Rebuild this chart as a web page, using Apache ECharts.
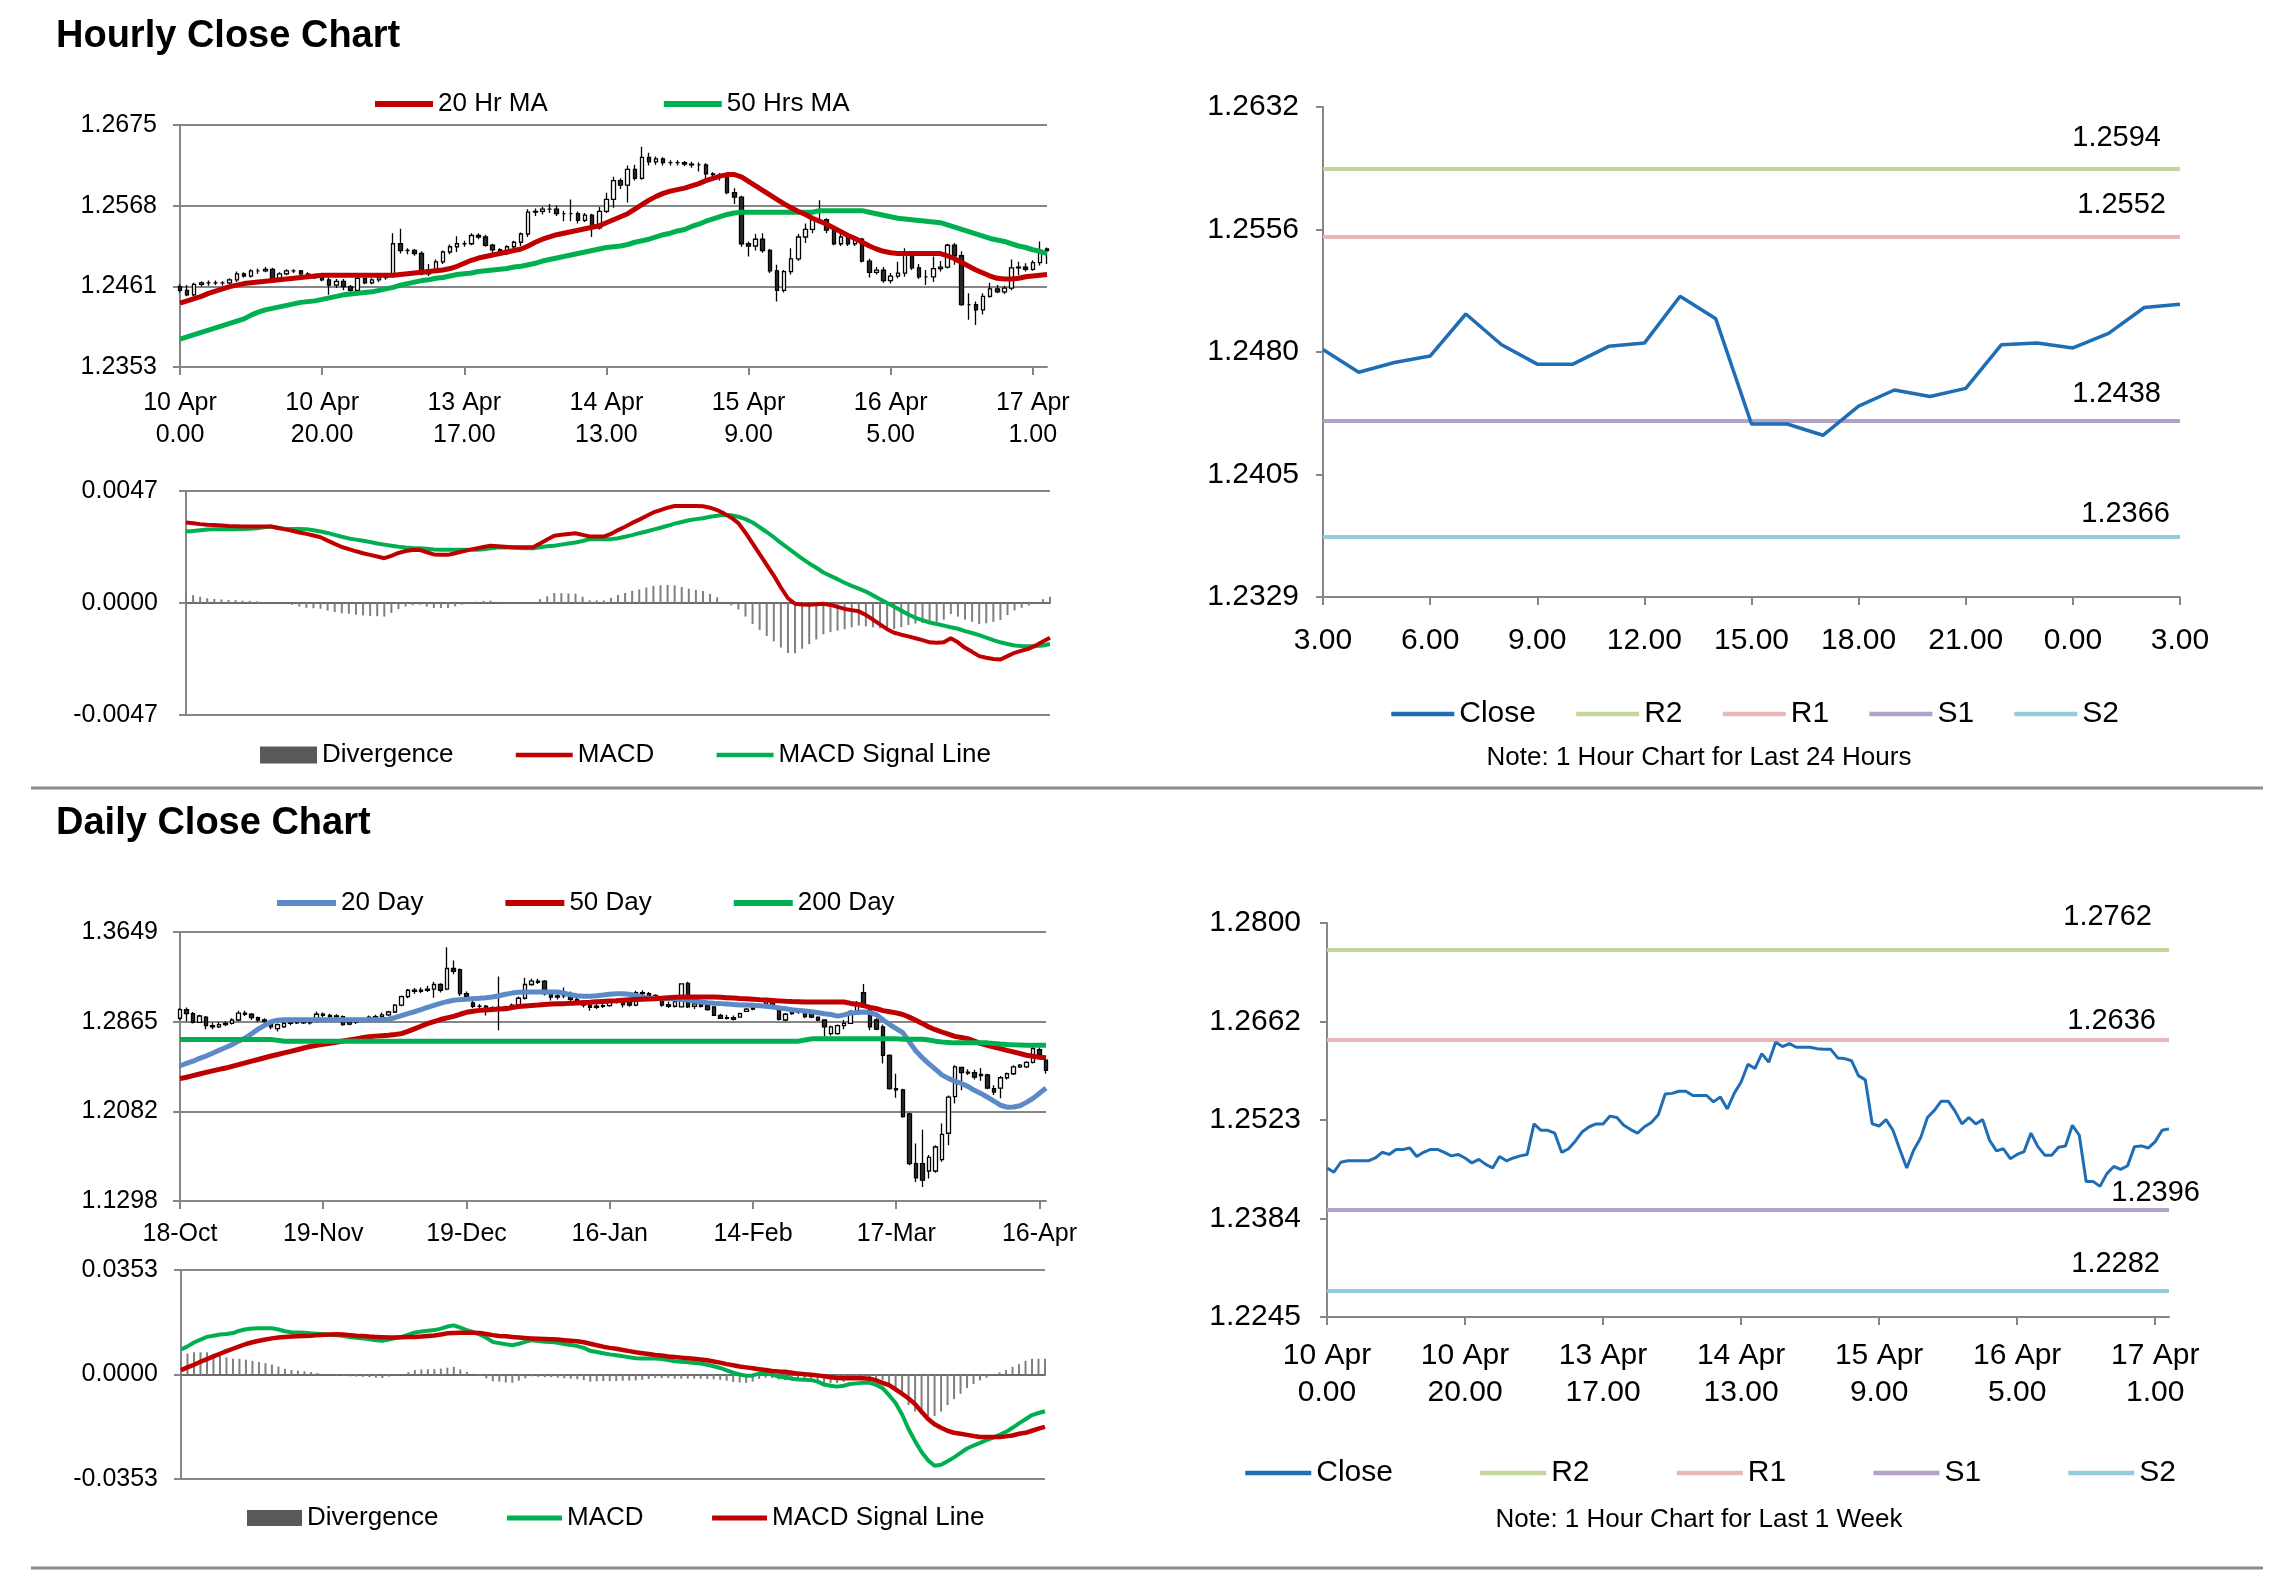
<!DOCTYPE html>
<html>
<head>
<meta charset="utf-8">
<script src="https://cdn.jsdelivr.net/npm/echarts@6/dist/echarts.min.js"></script>
<style>html,body{margin:0;padding:0;background:#fff;}#c{width:2291px;height:1577px;}</style>
</head>
<body>
<div id="c"></div>
<script>
// ---------------- DATA ----------------
// Hourly (10 Apr 0.00 .. 17 Apr 1.00), 123 bars
const hourTicks = ['10 Apr\n0.00','10 Apr\n20.00','13 Apr\n17.00','14 Apr\n13.00','15 Apr\n9.00','16 Apr\n5.00','17 Apr\n1.00'];
const hourYLabels = ['1.2353','1.2461','1.2568','1.2675'];
const hourOpen = [1.2460,1.2455,1.2449,1.2463,1.2465,1.2465,1.2465,1.2465,1.2469,1.2477,
1.2474,1.2481,1.2481,1.2483,1.2471,1.2477,1.2481,1.2481,1.2477,1.2472,
1.2474,1.2469,1.2462,1.2467,1.2460,1.2455,1.2471,1.2465,1.2469,1.2472,
1.2474,1.2517,1.2508,1.2508,1.2504,1.2477,1.2482,1.2493,1.2506,1.2513,
1.2517,1.2517,1.2528,1.2526,1.2515,1.2509,1.2504,1.2513,1.2519,1.2530,
1.2559,1.2560,1.2563,1.2563,1.2557,1.2557,1.2557,1.2548,1.2555,1.2538,
1.2560,1.2576,1.2601,1.2595,1.2616,1.2604,1.2632,1.2626,1.2630,1.2625,
1.2625,1.2625,1.2623,1.2622,1.2622,1.2610,1.2609,1.2606,1.2585,1.2579,
1.2517,1.2514,1.2523,1.2508,1.2481,1.2455,1.2480,1.2497,1.2526,1.2536,
1.2549,1.2549,1.2535,1.2517,1.2526,1.2517,1.2523,1.2494,1.2479,1.2482,
1.2468,1.2474,1.2478,1.2504,1.2485,1.2473,1.2473,1.2484,1.2486,1.2515,
1.2501,1.2436,1.2436,1.2429,1.2447,1.2457,1.2453,1.2458,1.2485,1.2486,
1.2483,1.2492,1.2508];
const hourClose = [1.2455,1.2449,1.2463,1.2465,1.2465,1.2465,1.2465,1.2469,1.2477,1.2474,
1.2481,1.2481,1.2483,1.2471,1.2477,1.2481,1.2481,1.2477,1.2472,1.2474,
1.2469,1.2462,1.2467,1.2460,1.2455,1.2471,1.2465,1.2469,1.2472,1.2474,
1.2517,1.2508,1.2508,1.2504,1.2477,1.2482,1.2493,1.2506,1.2513,1.2517,
1.2517,1.2528,1.2526,1.2515,1.2509,1.2504,1.2513,1.2519,1.2530,1.2559,
1.2560,1.2563,1.2563,1.2557,1.2557,1.2557,1.2548,1.2555,1.2538,1.2560,
1.2576,1.2601,1.2595,1.2616,1.2604,1.2632,1.2626,1.2630,1.2625,1.2625,
1.2625,1.2623,1.2622,1.2622,1.2610,1.2609,1.2606,1.2585,1.2579,1.2517,
1.2514,1.2523,1.2508,1.2481,1.2455,1.2480,1.2497,1.2526,1.2536,1.2549,
1.2549,1.2535,1.2517,1.2526,1.2517,1.2523,1.2494,1.2479,1.2482,1.2468,
1.2474,1.2478,1.2504,1.2485,1.2473,1.2473,1.2484,1.2486,1.2515,1.2501,
1.2436,1.2436,1.2429,1.2447,1.2457,1.2453,1.2458,1.2485,1.2486,1.2483,
1.2492,1.2508,1.2510];
const hourLow = [1.2452,1.2447,1.2447,1.2460,1.2461,1.2462,1.2461,1.2463,1.2466,1.2472,
1.2472,1.2477,1.2479,1.2469,1.2468,1.2475,1.2478,1.2475,1.2470,1.2470,
1.2467,1.2449,1.2458,1.2455,1.2451,1.2451,1.2463,1.2463,1.2466,1.2469,
1.2472,1.2504,1.2503,1.2501,1.2475,1.2474,1.2479,1.2490,1.2503,1.2506,
1.2513,1.2515,1.2523,1.2513,1.2503,1.2501,1.2502,1.2510,1.2514,1.2526,
1.2554,1.2556,1.2558,1.2554,1.2547,1.2547,1.2544,1.2546,1.2526,1.2536,
1.2558,1.2565,1.2590,1.2572,1.2601,1.2602,1.2621,1.2622,1.2621,1.2621,
1.2621,1.2620,1.2618,1.2613,1.2603,1.2602,1.2601,1.2583,1.2570,1.2513,
1.2500,1.2508,1.2505,1.2478,1.2440,1.2452,1.2476,1.2494,1.2518,1.2531,
1.2544,1.2531,1.2515,1.2514,1.2514,1.2514,1.2492,1.2472,1.2476,1.2465,
1.2464,1.2471,1.2473,1.2482,1.2470,1.2462,1.2466,1.2480,1.2484,1.2489,
1.2434,1.2416,1.2409,1.2423,1.2445,1.2451,1.2450,1.2455,1.2475,1.2480,
1.2481,1.2488,1.2490];
const hourHigh = [1.2463,1.2462,1.2465,1.2467,1.2468,1.2468,1.2467,1.2471,1.2480,1.2479,
1.2483,1.2484,1.2486,1.2485,1.2479,1.2483,1.2483,1.2482,1.2479,1.2476,
1.2476,1.2472,1.2470,1.2470,1.2462,1.2473,1.2472,1.2471,1.2474,1.2478,
1.2531,1.2537,1.2511,1.2510,1.2507,1.2490,1.2496,1.2508,1.2516,1.2527,
1.2521,1.2531,1.2531,1.2529,1.2517,1.2511,1.2515,1.2521,1.2532,1.2563,
1.2564,1.2566,1.2570,1.2568,1.2561,1.2576,1.2560,1.2558,1.2557,1.2566,
1.2585,1.2606,1.2604,1.2621,1.2622,1.2646,1.2638,1.2633,1.2632,1.2628,
1.2628,1.2627,1.2626,1.2625,1.2624,1.2612,1.2611,1.2608,1.2591,1.2581,
1.2520,1.2530,1.2531,1.2510,1.2489,1.2482,1.2511,1.2530,1.2544,1.2551,
1.2575,1.2551,1.2540,1.2530,1.2528,1.2526,1.2525,1.2497,1.2486,1.2486,
1.2478,1.2493,1.2511,1.2506,1.2490,1.2482,1.2500,1.2494,1.2517,1.2518,
1.2507,1.2451,1.2440,1.2451,1.2465,1.2462,1.2461,1.2496,1.2493,1.2491,
1.2495,1.2520,1.2512];
const hourMA20 = [1.2438,1.2441,1.2444,1.2447,1.2451,1.2454,1.2457,1.2460,1.2462,1.2464,
1.2465,1.2466,1.2467,1.2468,1.2469,1.2470,1.2471,1.2472,1.2473,1.2474,
1.2475,1.2475,1.2475,1.2475,1.2475,1.2475,1.2475,1.2475,1.2475,1.2475,
1.2475,1.2476,1.2477,1.2478,1.2479,1.2480,1.2481,1.2482,1.2484,1.2487,
1.2491,1.2495,1.2498,1.2500,1.2502,1.2504,1.2506,1.2508,1.2510,1.2514,
1.2519,1.2523,1.2526,1.2529,1.2531,1.2533,1.2535,1.2537,1.2539,1.2541,
1.2545,1.2549,1.2553,1.2557,1.2563,1.2569,1.2575,1.2580,1.2584,1.2587,
1.2589,1.2591,1.2594,1.2597,1.2601,1.2604,1.2607,1.2609,1.2609,1.2606,
1.2600,1.2594,1.2588,1.2582,1.2576,1.2570,1.2565,1.2560,1.2556,1.2551,
1.2547,1.2543,1.2538,1.2533,1.2528,1.2524,1.2519,1.2514,1.2510,1.2507,
1.2505,1.2504,1.2504,1.2504,1.2504,1.2504,1.2504,1.2504,1.2501,1.2497,
1.2492,1.2487,1.2482,1.2478,1.2474,1.2471,1.2470,1.2470,1.2471,1.2473,
1.2474,1.2475,1.2476];
const hourMA50 = [1.2390,1.2393,1.2396,1.2399,1.2402,1.2405,1.2408,1.2411,1.2414,1.2417,
1.2422,1.2426,1.2429,1.2431,1.2433,1.2435,1.2437,1.2439,1.2440,1.2441,
1.2443,1.2445,1.2447,1.2449,1.2450,1.2451,1.2452,1.2453,1.2455,1.2457,
1.2459,1.2462,1.2464,1.2466,1.2468,1.2469,1.2471,1.2472,1.2474,1.2476,
1.2477,1.2478,1.2480,1.2481,1.2482,1.2483,1.2484,1.2486,1.2487,1.2489,
1.2491,1.2494,1.2496,1.2498,1.2500,1.2502,1.2504,1.2506,1.2508,1.2510,
1.2512,1.2513,1.2514,1.2516,1.2519,1.2521,1.2523,1.2526,1.2529,1.2531,
1.2534,1.2536,1.2540,1.2543,1.2547,1.2550,1.2553,1.2556,1.2558,1.2559,
1.2559,1.2559,1.2559,1.2559,1.2559,1.2559,1.2559,1.2559,1.2559,1.2559,
1.2561,1.2561,1.2561,1.2561,1.2561,1.2561,1.2561,1.2559,1.2557,1.2555,
1.2553,1.2551,1.2550,1.2549,1.2548,1.2547,1.2546,1.2545,1.2542,1.2539,
1.2536,1.2533,1.2530,1.2527,1.2524,1.2522,1.2520,1.2517,1.2514,1.2512,
1.2509,1.2507,1.2504];
const hourMacdLabels = ['-0.0047','0.0000','0.0047'];
const hourMacd = [0.00338,0.00335,0.00331,0.00328,0.00327,0.00325,0.00323,0.00322,0.00321,0.00321,
0.00321,0.00321,0.00321,0.00315,0.00309,0.00303,0.00296,0.00290,0.00283,0.00276,
0.00262,0.00248,0.00235,0.00226,0.00217,0.00209,0.00202,0.00195,0.00188,0.00198,
0.00210,0.00218,0.00222,0.00223,0.00213,0.00204,0.00202,0.00202,0.00209,0.00216,
0.00223,0.00229,0.00235,0.00240,0.00238,0.00236,0.00234,0.00234,0.00234,0.00234,
0.00250,0.00266,0.00282,0.00286,0.00290,0.00293,0.00286,0.00279,0.00279,0.00279,
0.00290,0.00306,0.00320,0.00336,0.00350,0.00365,0.00380,0.00390,0.00400,0.00407,
0.00407,0.00407,0.00407,0.00406,0.00400,0.00390,0.00375,0.00358,0.00335,0.00295,
0.00250,0.00205,0.00160,0.00115,0.00065,0.00020,-0.00003,-0.00006,-0.00007,-0.00005,
-0.00003,-0.00008,-0.00016,-0.00025,-0.00030,-0.00035,-0.00050,-0.00070,-0.00090,-0.00110,
-0.00125,-0.00133,-0.00140,-0.00148,-0.00156,-0.00165,-0.00167,-0.00165,-0.00148,-0.00165,
-0.00188,-0.00205,-0.00223,-0.00230,-0.00235,-0.00237,-0.00223,-0.00209,-0.00200,-0.00192,
-0.00178,-0.00162,-0.00146];
const hourSignal = [0.00300,0.00302,0.00305,0.00308,0.00310,0.00310,0.00310,0.00310,0.00311,0.00312,
0.00314,0.00318,0.00321,0.00316,0.00311,0.00311,0.00311,0.00310,0.00305,0.00300,
0.00294,0.00286,0.00278,0.00271,0.00266,0.00261,0.00256,0.00250,0.00245,0.00240,
0.00236,0.00233,0.00231,0.00230,0.00228,0.00225,0.00223,0.00223,0.00223,0.00223,
0.00223,0.00223,0.00226,0.00230,0.00233,0.00234,0.00233,0.00231,0.00230,0.00230,
0.00234,0.00238,0.00240,0.00245,0.00250,0.00254,0.00260,0.00268,0.00268,0.00268,
0.00268,0.00272,0.00278,0.00285,0.00293,0.00300,0.00308,0.00316,0.00324,0.00333,
0.00340,0.00347,0.00352,0.00356,0.00362,0.00366,0.00370,0.00368,0.00362,0.00352,
0.00338,0.00318,0.00298,0.00276,0.00252,0.00230,0.00208,0.00186,0.00166,0.00148,
0.00128,0.00114,0.00100,0.00085,0.00072,0.00060,0.00048,0.00032,0.00016,0.00000,
-0.00016,-0.00032,-0.00048,-0.00062,-0.00072,-0.00082,-0.00088,-0.00095,-0.00102,-0.00108,
-0.00118,-0.00126,-0.00135,-0.00145,-0.00156,-0.00165,-0.00172,-0.00178,-0.00180,-0.00181,
-0.00181,-0.00178,-0.00172];
const hourDiv = [0.00038,0.00033,0.00026,0.00020,0.00017,0.00015,0.00013,0.00012,0.00010,0.00009,
0.00007,0.00003,0.00000,-0.00001,-0.00002,-0.00008,-0.00015,-0.00020,-0.00022,-0.00024,
-0.00032,-0.00038,-0.00043,-0.00045,-0.00049,-0.00052,-0.00054,-0.00055,-0.00057,-0.00042,
-0.00026,-0.00015,-0.00009,-0.00007,-0.00015,-0.00021,-0.00021,-0.00021,-0.00014,-0.00007,
0.00000,0.00006,0.00009,0.00010,0.00005,0.00002,0.00001,0.00003,0.00004,0.00004,
0.00016,0.00028,0.00042,0.00041,0.00040,0.00039,0.00026,0.00011,0.00011,0.00011,
0.00022,0.00034,0.00042,0.00051,0.00057,0.00065,0.00072,0.00074,0.00076,0.00074,
0.00067,0.00060,0.00055,0.00050,0.00038,0.00024,0.00005,-0.00010,-0.00027,-0.00057,
-0.00088,-0.00113,-0.00138,-0.00161,-0.00187,-0.00210,-0.00211,-0.00192,-0.00173,-0.00153,
-0.00131,-0.00122,-0.00116,-0.00110,-0.00102,-0.00095,-0.00098,-0.00102,-0.00106,-0.00110,
-0.00109,-0.00101,-0.00092,-0.00086,-0.00084,-0.00083,-0.00079,-0.00070,-0.00046,-0.00057,
-0.00070,-0.00079,-0.00088,-0.00085,-0.00079,-0.00072,-0.00051,-0.00031,-0.00020,-0.00011,
0.00003,0.00016,0.00026];

// Last 24 hours (3.00 .. 3.00), 25 points
const last24Ticks = ['3.00','6.00','9.00','12.00','15.00','18.00','21.00','0.00','3.00'];
const last24YLabels = ['1.2329','1.2405','1.2480','1.2556','1.2632'];
const last24Close = [1.2482,1.2468,1.2474,1.2478,1.2504,1.2485,1.2473,1.2473,1.2484,1.2486,
1.2515,1.2501,1.2436,1.2436,1.2429,1.2447,1.2457,1.2453,1.2458,1.2485,1.2486,1.2483,1.2492,1.2508,1.2510];
const pivotNames = ['R2','R1','S1','S2'];
const last24Pivots = [1.2594,1.2552,1.2438,1.2366];

// Last week (uses hourly closes)
const weekYLabels = ['1.2245','1.2384','1.2523','1.2662','1.2800'];
const weekPivots = [1.2762,1.2636,1.2396,1.2282];

// Daily (18-Oct .. 17-Apr), 134 bars
const dayTicks = ['18-Oct','19-Nov','19-Dec','16-Jan','14-Feb','17-Mar','16-Apr'];
const dayYLabels = ['1.1298','1.2082','1.2865','1.3649'];
const dayOpen = [1.2895,1.2970,1.2935,1.2860,1.2905,1.2830,1.2820,1.2840,1.2850,1.2880,
1.2940,1.2930,1.2900,1.2880,1.2865,1.2805,1.2820,1.2850,1.2855,1.2860,
1.2855,1.2870,1.2930,1.2920,1.2910,1.2910,1.2845,1.2860,1.2870,1.2885,
1.2905,1.2910,1.2925,1.2950,1.3010,1.3085,1.3140,1.3130,1.3140,1.3150,
1.3190,1.3150,1.3330,1.3320,1.3110,1.3030,1.3000,1.3000,1.2985,1.2990,
1.2980,1.2995,1.3010,1.3070,1.3190,1.3220,1.3220,1.3110,1.3080,1.3090,
1.3110,1.3060,1.3035,1.3010,1.2990,1.3000,1.3005,1.3040,1.3050,1.3040,
1.3010,1.3120,1.3110,1.3095,1.3060,1.3015,1.3000,1.2995,1.3200,1.3000,
1.3020,1.3005,1.2995,1.2920,1.2895,1.2900,1.2905,1.2955,1.2975,1.3000,
1.3020,1.3040,1.2975,1.2880,1.2935,1.2950,1.2955,1.2940,1.2905,1.2880,
1.2760,1.2760,1.2830,1.2850,1.2955,1.3120,1.2990,1.2880,1.2820,1.2570,
1.2280,1.2270,1.2060,1.1625,1.1625,1.1560,1.1560,1.1660,1.1890,1.2210,
1.2465,1.2425,1.2420,1.2405,1.2400,1.2280,1.2285,1.2375,1.2410,1.2470,
1.2470,1.2510,1.2620,1.2530];
const dayClose = [1.2970,1.2935,1.2860,1.2915,1.2830,1.2820,1.2840,1.2850,1.2880,1.2940,
1.2930,1.2900,1.2880,1.2870,1.2820,1.2840,1.2850,1.2855,1.2860,1.2855,
1.2858,1.2930,1.2920,1.2910,1.2915,1.2840,1.2860,1.2870,1.2880,1.2905,
1.2910,1.2925,1.2950,1.3010,1.3085,1.3140,1.3130,1.3140,1.3150,1.3190,
1.3140,1.3330,1.3305,1.3110,1.3085,1.3000,1.3000,1.2960,1.2975,1.2975,
1.2995,1.3010,1.3070,1.3190,1.3220,1.3210,1.3110,1.3080,1.3090,1.3120,
1.3060,1.3035,1.3010,1.2990,1.3000,1.3005,1.3040,1.3050,1.3015,1.3010,
1.3120,1.3110,1.3095,1.3060,1.3010,1.3000,1.3040,1.3195,1.2995,1.3020,
1.3000,1.2970,1.2920,1.2895,1.2900,1.2885,1.2935,1.2975,1.2985,1.3010,
1.3040,1.2985,1.2885,1.2930,1.2950,1.2960,1.2910,1.2905,1.2880,1.2820,
1.2820,1.2830,1.2850,1.2955,1.3030,1.2995,1.2820,1.2800,1.2570,1.2280,
1.2270,1.2035,1.1625,1.1500,1.1480,1.1680,1.1770,1.1880,1.2205,1.2470,
1.2420,1.2415,1.2380,1.2395,1.2285,1.2250,1.2375,1.2410,1.2470,1.2485,
1.2510,1.2630,1.2580,1.2440];
const dayLow = [1.2880,1.2870,1.2850,1.2855,1.2800,1.2800,1.2810,1.2825,1.2840,1.2870,
1.2915,1.2880,1.2865,1.2855,1.2800,1.2780,1.2810,1.2835,1.2845,1.2845,
1.2840,1.2860,1.2905,1.2895,1.2890,1.2830,1.2835,1.2845,1.2860,1.2875,
1.2895,1.2900,1.2915,1.2940,1.3000,1.3070,1.3110,1.3115,1.3125,1.3075,
1.3120,1.3140,1.3280,1.3090,1.3060,1.2985,1.2985,1.2920,1.2950,1.2790,
1.2970,1.2980,1.3000,1.3060,1.3180,1.3195,1.3095,1.3050,1.3060,1.3070,
1.3040,1.3020,1.2990,1.2960,1.2975,1.2985,1.2995,1.3025,1.2990,1.2995,
1.3000,1.3090,1.3080,1.3045,1.2995,1.2985,1.2990,1.2990,1.2985,1.2975,
1.2990,1.2960,1.2915,1.2890,1.2885,1.2875,1.2900,1.2950,1.2965,1.2990,
1.3010,1.2975,1.2875,1.2870,1.2925,1.2935,1.2895,1.2895,1.2870,1.2735,
1.2745,1.2750,1.2800,1.2845,1.2940,1.2985,1.2790,1.2790,1.2500,1.2270,
1.2200,1.2025,1.1610,1.1465,1.1421,1.1495,1.1545,1.1640,1.1785,1.2150,
1.2265,1.2400,1.2360,1.2350,1.2275,1.2225,1.2195,1.2360,1.2400,1.2460,
1.2460,1.2500,1.2560,1.2410];
const dayHigh = [1.2985,1.2990,1.2950,1.2925,1.2915,1.2855,1.2860,1.2870,1.2895,1.2960,
1.2960,1.2940,1.2910,1.2895,1.2875,1.2850,1.2870,1.2875,1.2875,1.2870,
1.2875,1.2955,1.2945,1.2935,1.2930,1.2920,1.2880,1.2885,1.2900,1.2920,
1.2925,1.2945,1.2960,1.3020,1.3095,1.3150,1.3160,1.3165,1.3180,1.3215,
1.3200,1.3515,1.3400,1.3330,1.3130,1.3050,1.3020,1.3010,1.3000,1.3260,
1.3005,1.3025,1.3085,1.3250,1.3240,1.3240,1.3230,1.3130,1.3110,1.3165,
1.3130,1.3080,1.3050,1.3030,1.3020,1.3020,1.3055,1.3065,1.3060,1.3055,
1.3135,1.3140,1.3125,1.3105,1.3070,1.3040,1.3060,1.3200,1.3215,1.3040,
1.3030,1.3010,1.3000,1.2935,1.2925,1.2920,1.2945,1.2985,1.3000,1.3025,
1.3050,1.3050,1.2985,1.2940,1.2960,1.2970,1.2965,1.2950,1.2910,1.2885,
1.2830,1.2840,1.2880,1.2965,1.3045,1.3195,1.3000,1.2895,1.2840,1.2580,
1.2410,1.2280,1.2070,1.1800,1.1920,1.1700,1.1785,1.1975,1.2220,1.2485,
1.2470,1.2450,1.2445,1.2460,1.2410,1.2310,1.2390,1.2420,1.2485,1.2495,
1.2520,1.2660,1.2640,1.2545];
const day20 = [1.2480,1.2500,1.2520,1.2545,1.2565,1.2590,1.2615,1.2640,1.2665,1.2695,
1.2722,1.2760,1.2800,1.2833,1.2865,1.2878,1.2882,1.2883,1.2883,1.2883,
1.2883,1.2883,1.2883,1.2883,1.2883,1.2883,1.2883,1.2883,1.2883,1.2883,
1.2883,1.2883,1.2886,1.2900,1.2918,1.2935,1.2952,1.2970,1.2990,1.3008,
1.3025,1.3040,1.3052,1.3058,1.3062,1.3066,1.3070,1.3075,1.3081,1.3092,
1.3105,1.3115,1.3122,1.3125,1.3125,1.3125,1.3125,1.3125,1.3125,1.3115,
1.3100,1.3092,1.3088,1.3088,1.3092,1.3098,1.3105,1.3110,1.3110,1.3105,
1.3095,1.3080,1.3072,1.3070,1.3068,1.3066,1.3064,1.3060,1.3054,1.3046,
1.3037,1.3031,1.3026,1.3023,1.3020,1.3016,1.3012,1.3010,1.3008,1.3004,
1.3000,1.2994,1.2986,1.2978,1.2970,1.2964,1.2958,1.2952,1.2944,1.2935,
1.2928,1.2914,1.2925,1.2940,1.2946,1.2950,1.2945,1.2925,1.2880,1.2840,
1.2805,1.2770,1.2690,1.2610,1.2550,1.2498,1.2450,1.2400,1.2370,1.2345,
1.2325,1.2300,1.2265,1.2238,1.2205,1.2170,1.2135,1.2118,1.2120,1.2130,
1.2160,1.2195,1.2240,1.2285];
const day50 = [1.2367,1.2380,1.2394,1.2408,1.2422,1.2435,1.2448,1.2460,1.2475,1.2490,
1.2505,1.2520,1.2535,1.2550,1.2565,1.2578,1.2592,1.2606,1.2620,1.2635,
1.2648,1.2658,1.2667,1.2676,1.2685,1.2696,1.2706,1.2715,1.2724,1.2733,
1.2739,1.2743,1.2747,1.2753,1.2761,1.2780,1.2802,1.2825,1.2848,1.2866,
1.2884,1.2898,1.2912,1.2930,1.2947,1.2957,1.2964,1.2968,1.2972,1.2975,
1.2978,1.2988,1.2998,1.3003,1.3007,1.3011,1.3016,1.3019,1.3021,1.3023,
1.3026,1.3029,1.3032,1.3035,1.3039,1.3042,1.3045,1.3048,1.3052,1.3056,
1.3059,1.3062,1.3064,1.3066,1.3070,1.3074,1.3078,1.3081,1.3081,1.3081,
1.3081,1.3081,1.3081,1.3078,1.3075,1.3072,1.3068,1.3065,1.3062,1.3058,
1.3055,1.3051,1.3047,1.3043,1.3041,1.3040,1.3038,1.3037,1.3037,1.3037,
1.3037,1.3037,1.3037,1.3025,1.3018,1.3005,1.2990,1.2978,1.2962,1.2952,
1.2942,1.2928,1.2905,1.2878,1.2850,1.2819,1.2795,1.2775,1.2756,1.2737,
1.2727,1.2717,1.2695,1.2673,1.2658,1.2644,1.2630,1.2615,1.2601,1.2587,
1.2572,1.2563,1.2555,1.2550];
const day200 = [1.2710,1.2710,1.2710,1.2710,1.2710,1.2710,1.2710,1.2710,1.2710,1.2710,
1.2710,1.2710,1.2710,1.2710,1.2710,1.2702,1.2695,1.2695,1.2695,1.2695,
1.2695,1.2695,1.2695,1.2695,1.2695,1.2695,1.2695,1.2695,1.2695,1.2695,
1.2695,1.2695,1.2695,1.2695,1.2695,1.2695,1.2695,1.2695,1.2695,1.2695,
1.2695,1.2695,1.2695,1.2695,1.2695,1.2695,1.2695,1.2695,1.2695,1.2695,
1.2695,1.2695,1.2695,1.2695,1.2695,1.2695,1.2695,1.2695,1.2695,1.2695,
1.2695,1.2695,1.2695,1.2695,1.2695,1.2695,1.2695,1.2695,1.2695,1.2695,
1.2695,1.2695,1.2695,1.2695,1.2695,1.2695,1.2695,1.2695,1.2695,1.2695,
1.2695,1.2695,1.2695,1.2695,1.2695,1.2695,1.2695,1.2695,1.2695,1.2695,
1.2695,1.2695,1.2695,1.2695,1.2695,1.2695,1.2705,1.2715,1.2715,1.2715,
1.2715,1.2715,1.2715,1.2715,1.2715,1.2715,1.2715,1.2715,1.2715,1.2715,
1.2715,1.2712,1.2712,1.2712,1.2712,1.2705,1.2695,1.2688,1.2684,1.2680,
1.2680,1.2680,1.2680,1.2680,1.2680,1.2675,1.2670,1.2666,1.2663,1.2661,
1.2659,1.2659,1.2659,1.2659];
const dayMacdLabels = ['-0.0353','0.0000','0.0353'];
const dayMacd = [0.00846,0.0095,0.0108,0.0118,0.0127,0.0131,0.0135,0.0137,0.0140,0.0148,
0.0153,0.0155,0.0156,0.0156,0.0156,0.0152,0.0146,0.0143,0.0142,0.0141,
0.0139,0.0138,0.0136,0.0134,0.0133,0.0130,0.0127,0.0124,0.0122,0.0119,
0.0116,0.0114,0.0118,0.0123,0.0127,0.0135,0.0142,0.0145,0.0148,0.0150,
0.0155,0.0162,0.0166,0.0158,0.0150,0.0143,0.0135,0.0124,0.0110,0.0106,
0.0102,0.0099,0.0104,0.0110,0.0116,0.0113,0.0111,0.0110,0.0107,0.0103,
0.0100,0.0096,0.0090,0.0080,0.0076,0.0072,0.0068,0.0065,0.0062,0.0058,
0.0055,0.0054,0.0054,0.0054,0.0052,0.0049,0.0045,0.0043,0.0041,0.0039,
0.0037,0.0033,0.0028,0.0022,0.0014,0.0006,0.0000,-0.0004,-0.0003,0.0003,
0.0004,0.0000,-0.0007,-0.0010,-0.0014,-0.0017,-0.0018,-0.0019,-0.0024,-0.0034,
-0.0038,-0.0041,-0.0038,-0.0032,-0.0030,-0.0028,-0.0028,-0.0035,-0.0046,-0.0070,
-0.0096,-0.0135,-0.0184,-0.0225,-0.0262,-0.0290,-0.0308,-0.0305,-0.0293,-0.0280,
-0.0265,-0.0250,-0.0240,-0.0231,-0.0222,-0.0213,-0.0204,-0.0194,-0.0180,-0.0165,
-0.0151,-0.0137,-0.0130,-0.0124];
const daySignal = [0.00147,0.0024,0.0033,0.0043,0.0052,0.0061,0.0070,0.0079,0.0087,0.0095,
0.0103,0.0109,0.0114,0.0118,0.0122,0.0125,0.0127,0.0128,0.0129,0.0130,
0.0131,0.0133,0.0134,0.0135,0.0136,0.0135,0.0133,0.0131,0.0130,0.0128,
0.0127,0.0126,0.0125,0.0125,0.0126,0.0127,0.0127,0.0128,0.0130,0.0132,
0.0135,0.0139,0.0140,0.0141,0.0141,0.0141,0.0140,0.0137,0.0133,0.0130,
0.0129,0.0127,0.0125,0.0123,0.0122,0.0121,0.0120,0.0119,0.0118,0.0116,
0.0114,0.0112,0.0109,0.0104,0.0099,0.0094,0.0090,0.0087,0.0083,0.0079,
0.0075,0.0072,0.0069,0.0066,0.0064,0.0061,0.0059,0.0057,0.0055,0.0053,
0.0051,0.0048,0.0044,0.0040,0.0035,0.0031,0.0027,0.0024,0.0021,0.0018,
0.0015,0.0012,0.0010,0.0009,0.0006,0.0003,0.0001,-0.0001,-0.0003,-0.0006,
-0.0009,-0.0012,-0.0013,-0.0013,-0.0013,-0.0013,-0.0014,-0.0020,-0.0028,-0.0036,
-0.0050,-0.0065,-0.0081,-0.0100,-0.0126,-0.0150,-0.0168,-0.0180,-0.0190,-0.0197,
-0.0200,-0.0204,-0.0208,-0.0211,-0.0211,-0.0211,-0.0211,-0.0209,-0.0206,-0.0200,
-0.0197,-0.0190,-0.0183,-0.0177];
const dayDiv = [0.0070,0.0071,0.0075,0.0075,0.0075,0.0070,0.0065,0.0058,0.0053,0.0053,
0.0050,0.0046,0.0042,0.0038,0.0034,0.0027,0.0019,0.0015,0.0013,0.0011,
0.0008,0.0005,0.0002,-0.0001,-0.0003,-0.0005,-0.0006,-0.0007,-0.0008,-0.0009,
-0.0011,-0.0012,-0.0007,-0.0002,0.0001,0.0008,0.0015,0.0017,0.0018,0.0018,
0.0020,0.0023,0.0026,0.0017,0.0009,0.0002,-0.0005,-0.0013,-0.0023,-0.0024,
-0.0027,-0.0028,-0.0021,-0.0013,-0.0006,-0.0008,-0.0009,-0.0009,-0.0011,-0.0013,
-0.0014,-0.0016,-0.0019,-0.0024,-0.0023,-0.0022,-0.0022,-0.0022,-0.0021,-0.0021,
-0.0020,-0.0018,-0.0015,-0.0012,-0.0012,-0.0012,-0.0014,-0.0014,-0.0014,-0.0014,
-0.0014,-0.0015,-0.0016,-0.0018,-0.0021,-0.0025,-0.0027,-0.0028,-0.0024,-0.0015,
-0.0011,-0.0012,-0.0017,-0.0019,-0.0020,-0.0020,-0.0019,-0.0018,-0.0021,-0.0028,
-0.0029,-0.0029,-0.0025,-0.0019,-0.0017,-0.0015,-0.0014,-0.0015,-0.0018,-0.0034,
-0.0046,-0.0070,-0.0103,-0.0125,-0.0136,-0.0140,-0.0140,-0.0125,-0.0103,-0.0083,
-0.0065,-0.0046,-0.0032,-0.0020,-0.0011,-0.0002,0.0007,0.0015,0.0026,0.0035,
0.0046,0.0053,0.0053,0.0053];

// ---------------- STYLE / HELPERS ----------------
const FONT = '"Liberation Sans", Arial, Helvetica, sans-serif';
const AX = '#868686';
const RED = '#c00000', GREEN = '#00b050', BLUE = '#5b8ac6', CLOSE = '#1f6db4';
const PIVOT_COLORS = ['#c3d69b','#e6b9b8','#b3a2c7','#93cddd'];

function idx(n){ return Array.from({length:n}, (_, i) => String(i)); }
function near(labels){ return v => labels.reduce((b, s) => Math.abs(+s - v) < Math.abs(+b - v) ? s : b); }
function yRange(labels){
  const lo = +labels[0], hi = +labels[labels.length - 1], n = labels.length - 1;
  const iv = (hi - lo) / n; let t = lo; for (let k = 0; k < n; k++) t = t + iv;
  return {min: lo, max: t, interval: iv};
}
function xCat(gridIndex, n, every, ticks, o){
  o = o || {};
  return {
    type:'category', gridIndex, data: idx(n), boundaryGap:false,
    axisLine:{show:true, onZero: !!o.onZero, lineStyle:{color:o.lineColor||AX, width:o.lineWidth||2}},
    axisTick:{show: !!ticks, interval: every - 1, length: 8, lineStyle:{color:AX, width:2}},
    axisLabel:{show: !!ticks, interval: every - 1, margin: o.margin||18, color:'#000',
      fontSize: o.fontSize||25, lineHeight: o.lineHeight||30, fontFamily: FONT,
      formatter: (v, i) => ticks ? (ticks[Math.round(i / every)] || '') : ''},
    splitLine:{show:false}
  };
}
function yVal(gridIndex, labels, o){
  const r = yRange(labels);
  return {
    type:'value', gridIndex, min:r.min, max:r.max, interval:r.interval, scale:true,
    axisLine:{show:true, lineStyle:{color:AX, width:2}},
    axisTick:{show:true, length:7, lineStyle:{color:AX, width:2}},
    axisLabel:{formatter: near(labels), margin:o.margin, color:'#000', fontSize:o.fontSize||25, fontFamily:FONT},
    splitLine:{show: !!o.split, lineStyle:{color:AX, width:2}}
  };
}
function lineS(name, xi, data, color, width, z){
  return {type:'line', name, xAxisIndex:xi, yAxisIndex:xi, data, symbol:'none', showSymbol:false,
    color, lineStyle:{color, width}, itemStyle:{color}, z: z||3, silent:true};
}
const PIVOT_DIST = { 'r_': [[19,16],[14,17],[19,12],[10,9]], 'w_': [[17,18],[13,4],[-31,2],[9,12]] };
function pivotS(prefix, xi, values){
  return values.map((v, k) => ({
    type:'line', name: prefix + pivotNames[k], xAxisIndex:xi, yAxisIndex:xi, data:[], symbol:'none',
    color: PIVOT_COLORS[k], lineStyle:{color:PIVOT_COLORS[k], width:4}, itemStyle:{color:PIVOT_COLORS[k]}, z:2,
    markLine:{silent:true, symbol:['none','none'], animation:false, precision:6,
      lineStyle:{color:PIVOT_COLORS[k], width:4, type:'solid'},
      emphasis:{disabled:true},
      label:{show:true, position:'insideEndTop', formatter: () => v.toFixed(4),
        color:'#000', fontSize:29, fontFamily:FONT, distance: PIVOT_DIST[prefix][k]},
      data:[{yAxis: v}]}
  }));
}
const strip = n => n.slice(n.indexOf('_') + 1);
function legend(o){
  return Object.assign({padding:0, orient:'horizontal', selectedMode:false, formatter: strip,
    itemStyle:{opacity:0},
    textStyle:{color:'#000', fontSize:26, fontFamily:FONT}}, o);
}
const candleStyle = {color:'#ffffff', color0:'#2b2b2b', borderColor:'#000', borderColor0:'#000', borderColorDoji:'#000', borderWidth:1.3};

// ---------------- OPTION ----------------
const option = {
  animation:false,
  backgroundColor:'#fff',
  textStyle:{fontFamily:FONT},
  title:[
    {text:'Hourly Close Chart', left:56, top:18, padding:0, textStyle:{fontSize:38, fontWeight:'bold', color:'#000', fontFamily:FONT}},
    {text:'Daily Close Chart', left:56, top:805, padding:0, textStyle:{fontSize:38, fontWeight:'bold', color:'#000', fontFamily:FONT}}
  ],
  grid:[
    {left:180, top:125, width:867, height:242, outerBoundsMode:'none'},
    {left:186, top:491, width:864, height:224, outerBoundsMode:'none'},
    {left:1323, top:107, width:857, height:490, outerBoundsMode:'none'},
    {left:180, top:932, width:866, height:269, outerBoundsMode:'none'},
    {left:181, top:1270, width:864, height:209, outerBoundsMode:'none'},
    {left:1327, top:923, width:842, height:394, outerBoundsMode:'none'}
  ],
  xAxis:[
    xCat(0, hourClose.length, 20, hourTicks, {margin:20, lineHeight:32}),
    xCat(1, hourMacd.length, 20, null, {onZero:true, lineColor:'#6b6b6b', lineWidth:2}),
    xCat(2, last24Close.length, 3, last24Ticks, {margin:27, fontSize:30, lineHeight:34}),
    xCat(3, dayClose.length, 22, dayTicks, {margin:18}),
    xCat(4, dayMacd.length, 22, null, {onZero:true, lineColor:'#6b6b6b', lineWidth:2}),
    xCat(5, hourClose.length, 20, hourTicks, {margin:20, fontSize:30, lineHeight:37})
  ],
  yAxis:[
    yVal(0, hourYLabels, {margin:23, split:true}),
    yVal(1, hourMacdLabels, {margin:28, split:true}),
    yVal(2, last24YLabels, {margin:24, fontSize:30}),
    yVal(3, dayYLabels, {margin:22, split:true}),
    yVal(4, dayMacdLabels, {margin:23, split:true}),
    yVal(5, weekYLabels, {margin:26, fontSize:30})
  ],
  legend:[
    legend({left:372, top:91, itemWidth:58, itemHeight:6, itemGap:113, lineStyle:{width:6},
      data:['h_20 Hr MA','h_50 Hrs MA']}),
    legend({left:260, top:742, itemWidth:57, itemHeight:17, itemGap:60, lineStyle:{width:4.5},
      data:[{name:'hm_Divergence', icon:'rect', itemStyle:{color:'#595959', opacity:1}}, 'hm_MACD', 'hm_MACD Signal Line']}),
    legend({left:1389, top:699, itemWidth:63, itemHeight:6, itemGap:38, lineStyle:{width:4.5},
      textStyle:{color:'#000', fontSize:30, fontFamily:FONT},
      data:['r_Close','r_R2','r_R1','r_S1','r_S2']}),
    legend({left:274, top:890, itemWidth:59, itemHeight:6, itemGap:79, lineStyle:{width:6},
      data:['d_20 Day','d_50 Day','d_200 Day']}),
    legend({left:247, top:1505, itemWidth:55, itemHeight:16, itemGap:66, lineStyle:{width:5},
      data:[{name:'dm_Divergence', icon:'rect', itemStyle:{color:'#595959', opacity:1}}, 'dm_MACD', 'dm_MACD Signal Line']}),
    legend({left:1243, top:1458, itemWidth:66, itemHeight:6, itemGap:85, lineStyle:{width:4.5},
      textStyle:{color:'#000', fontSize:30, fontFamily:FONT},
      data:['w_Close','w_R2','w_R1','w_S1','w_S2']})
  ],
  series:[
    {type:'candlestick', name:'h_Candle', xAxisIndex:0, yAxisIndex:0, barWidth:4, z:2, silent:true,
      data: hourOpen.map((o, i) => [o, hourClose[i], hourLow[i], hourHigh[i]]), itemStyle:candleStyle},
    lineS('h_20 Hr MA', 0, hourMA20, RED, 5, 4),
    lineS('h_50 Hrs MA', 0, hourMA50, GREEN, 5, 3),

    {type:'bar', name:'hm_Divergence', xAxisIndex:1, yAxisIndex:1, data:hourDiv, barWidth:2, silent:true,
      itemStyle:{color:'#7f7f7f'}, color:'#7f7f7f'},
    lineS('hm_MACD', 1, hourMacd, RED, 4, 4),
    lineS('hm_MACD Signal Line', 1, hourSignal, GREEN, 4, 3),

    lineS('r_Close', 2, last24Close, CLOSE, 3.5, 5),
    ...pivotS('r_', 2, last24Pivots),

    {type:'candlestick', name:'d_Candle', xAxisIndex:3, yAxisIndex:3, barWidth:4, z:2, silent:true,
      data: dayOpen.map((o, i) => [o, dayClose[i], dayLow[i], dayHigh[i]]), itemStyle:candleStyle},
    lineS('d_20 Day', 3, day20, BLUE, 5, 3),
    lineS('d_50 Day', 3, day50, RED, 5, 4),
    lineS('d_200 Day', 3, day200, GREEN, 5, 5),

    {type:'bar', name:'dm_Divergence', xAxisIndex:4, yAxisIndex:4, data:dayDiv, barWidth:2, silent:true,
      itemStyle:{color:'#7f7f7f'}, color:'#7f7f7f'},
    lineS('dm_MACD', 4, dayMacd, GREEN, 4, 3),
    lineS('dm_MACD Signal Line', 4, daySignal, RED, 4.5, 4),

    lineS('w_Close', 5, hourClose, CLOSE, 3, 5),
    ...pivotS('w_', 5, weekPivots)
  ],
  graphic:[
    {type:'line', shape:{x1:31, y1:788, x2:2263, y2:788}, style:{stroke:'#8c8c8c', lineWidth:3}, silent:true},
    {type:'line', shape:{x1:31, y1:1568, x2:2263, y2:1568}, style:{stroke:'#8c8c8c', lineWidth:3}, silent:true},
    {type:'text', x:1699, y:758, silent:true, style:{text:'Note: 1 Hour Chart for Last 24 Hours', fill:'#000',
      font:'26px ' + FONT, textAlign:'center', textVerticalAlign:'middle', align:'center', verticalAlign:'middle'}},
    {type:'text', x:1699, y:1520, silent:true, style:{text:'Note: 1 Hour Chart for Last 1 Week', fill:'#000',
      font:'26px ' + FONT, textAlign:'center', textVerticalAlign:'middle', align:'center', verticalAlign:'middle'}}
  ]
};

const chart = echarts.init(document.getElementById('c'), null, {renderer:'canvas'});
chart.setOption(option);
</script>
</body>
</html>
